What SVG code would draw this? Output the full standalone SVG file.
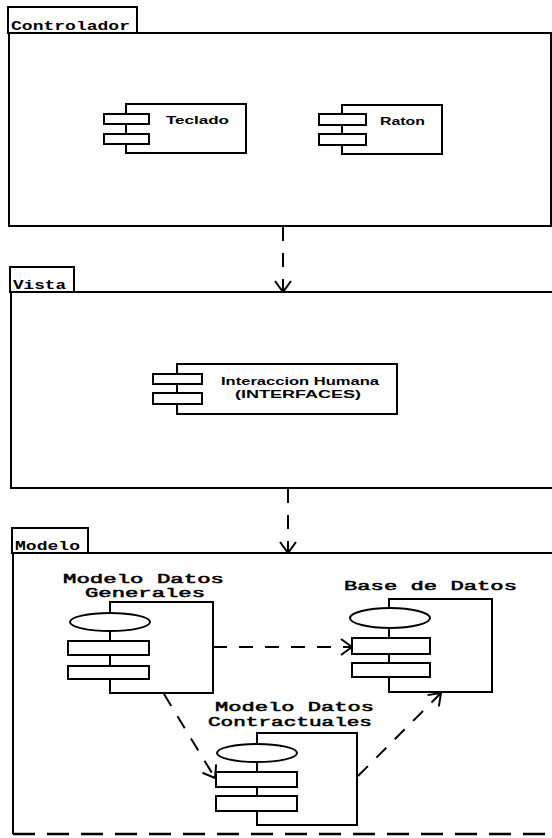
<svg xmlns="http://www.w3.org/2000/svg" width="552" height="838" viewBox="0 0 552 838">
<style>
  .ln{fill:none;stroke:#000;stroke-width:2}
  .wb{fill:#fff;stroke:#000;stroke-width:2}
  .mono{font-family:"Liberation Mono","Courier New",monospace;font-weight:bold;fill:#000}
  .title{font-family:"Liberation Mono","Courier New",monospace;font-size:12px;fill:#000;stroke:#000;stroke-width:0.5}
  .sans{font-family:"Liberation Sans",Arial,sans-serif;font-weight:bold;font-size:11px;fill:#000}
  .dash{fill:none;stroke:#000;stroke-width:2;stroke-dasharray:14 12}
</style>
<defs>
  <marker id="open" markerUnits="userSpaceOnUse" viewBox="0 -9 13 18" markerWidth="13" markerHeight="18" refX="12" refY="0" orient="auto">
    <path d="M1,-8 L12,0 L1,8" fill="none" stroke="#000" stroke-width="2"/>
  </marker>
</defs>
<rect width="552" height="838" fill="#fff"/>

<g id="pkg-controlador">
  <rect class="ln" x="8" y="7" width="129" height="26"/>
  <path class="ln" d="M9,33 H551 V226 H9 Z"/>
  <text class="mono" x="11" y="30" font-size="12" textLength="119" lengthAdjust="spacingAndGlyphs">Controlador</text>
</g>
<g id="teclado">
  <rect class="ln" x="126" y="104" width="120" height="49"/>
  <rect class="wb" x="104" y="114" width="45" height="10"/>
  <rect class="wb" x="104" y="134" width="45" height="10"/>
  <text class="sans" font-size="12" x="166" y="124" textLength="63" lengthAdjust="spacingAndGlyphs">Teclado</text>
</g>
<g id="raton">
  <rect class="ln" x="342" y="105" width="100" height="49"/>
  <rect class="wb" x="319" y="114" width="47" height="11"/>
  <rect class="wb" x="319" y="134" width="47" height="11"/>
  <text class="sans" font-size="12" x="380" y="125" textLength="45" lengthAdjust="spacingAndGlyphs">Raton</text>
</g>

<g id="pkg-vista">
  <rect class="ln" x="10" y="267" width="64" height="25"/>
  <path class="ln" d="M553,292 H11 V488 H553"/>
  <text class="mono" x="13" y="289" font-size="12" textLength="53" lengthAdjust="spacingAndGlyphs">Vista</text>
</g>
<g id="interaccion">
  <rect class="ln" x="177" y="364" width="220" height="50"/>
  <rect class="wb" x="153" y="374" width="49" height="10"/>
  <rect class="wb" x="153" y="393" width="49" height="11"/>
  <text class="sans" x="221" y="385" textLength="158" lengthAdjust="spacingAndGlyphs">Interaccion Humana</text>
  <text class="sans" x="235" y="398" textLength="126" lengthAdjust="spacingAndGlyphs">(INTERFACES)</text>
</g>

<g id="pkg-modelo">
  <rect class="ln" x="12" y="528" width="76" height="25"/>
  <path class="ln" d="M553,553 H13 V834"/>
  <path d="M13,834 H552" fill="none" stroke="#000" stroke-width="2.5" stroke-dasharray="22 12"/>
  <text class="mono" x="15" y="550" font-size="12" textLength="65" lengthAdjust="spacingAndGlyphs">Modelo</text>
</g>
<g id="generales">
  <text class="title" x="63" y="583" textLength="161" lengthAdjust="spacingAndGlyphs">Modelo Datos</text>
  <text class="title" x="85" y="597" textLength="120" lengthAdjust="spacingAndGlyphs">Generales</text>
  <rect class="ln" x="110" y="602" width="103" height="91"/>
  <ellipse class="wb" cx="110" cy="622" rx="40" ry="9"/>
  <rect class="wb" x="68" y="641" width="81" height="14"/>
  <rect class="wb" x="68" y="666" width="81" height="13"/>
</g>
<g id="base-datos">
  <text class="title" x="344" y="590" textLength="173" lengthAdjust="spacingAndGlyphs">Base de Datos</text>
  <rect class="ln" x="389" y="599" width="103" height="93"/>
  <ellipse class="wb" cx="390" cy="618" rx="40" ry="10"/>
  <rect class="wb" x="352" y="638" width="78" height="16"/>
  <rect class="wb" x="352" y="663" width="78" height="14"/>
</g>
<g id="contractuales">
  <text class="title" x="215" y="711" textLength="159" lengthAdjust="spacingAndGlyphs">Modelo Datos</text>
  <text class="title" x="208" y="726" textLength="164" lengthAdjust="spacingAndGlyphs">Contractuales</text>
  <rect class="ln" x="257" y="733" width="100" height="92"/>
  <ellipse class="wb" cx="257" cy="753" rx="40" ry="9"/>
  <rect class="wb" x="216" y="772" width="81" height="15"/>
  <rect class="wb" x="216" y="796" width="81" height="15"/>
</g>

<g id="connectors">
  <path class="dash" d="M283,227 V292" marker-end="url(#open)"/>
  <path class="dash" d="M288,489 V553" marker-end="url(#open)"/>
  <path class="dash" d="M213,647 H352" marker-end="url(#open)"/>
  <path class="dash" d="M164,694 L215,778" marker-end="url(#open)"/>
  <path class="dash" d="M358,776 L441,693" marker-end="url(#open)"/>
</g>
</svg>
